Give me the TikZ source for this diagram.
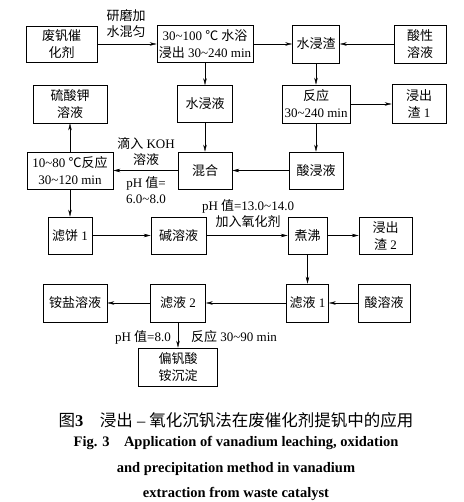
\documentclass[tikz,border=0pt]{standalone}
\usepackage{fontspec}
\setmainfont{Liberation Serif}
\newfontfamily\cjk{Noto Sans CJK SC}
\usetikzlibrary{arrows.meta}
\newcommand{\zh}[1]{{\cjk #1}}
\newcommand{\wave}{\textasciitilde}

\begin{document}
\begin{tikzpicture}[x=1pt,y=-1pt,>={Stealth[length=7pt,width=3.5pt]},
    box/.style 2 args={draw, line width=0.6pt, align=center, inner sep=1pt,
        minimum width=#1pt, minimum height=#2pt, font=\fontsize{13}{17}\selectfont},
    lab/.style={align=center, inner sep=0pt, font=\fontsize{13}{16}\selectfont}]
    \useasboundingbox (0,0) rectangle (463,502);

    % the boxes, row by row
    \node[box={71}{36}] (waste) at (61.5,44) {\zh{废钒催}\\\zh{化剂}};
    \node[box={96}{37}] (leach) at (205,44) {30\wave100 \zh{℃ 水浴}\\\zh{浸出} 30\wave240 min};
    \node[box={47}{38}] (wres) at (316,44) {\zh{水浸渣}};
    \node[box={52}{38}] (acidsol) at (420,44) {\zh{酸性}\\\zh{溶液}};
    %
    \node[box={74}{38}] (ksalt) at (70,104) {\zh{硫酸钾}\\\zh{溶液}};
    \node[box={55}{37}] (wliq) at (205,104) {\zh{水浸液}};
    \node[box={68}{38}] (react) at (316,104) {\zh{反应}\\30\wave240 min};
    \node[box={54}{39}] (res1) at (419,104) {\zh{浸出}\\\zh{渣} 1};
    %
    \node[box={86}{37}] (neut) at (70,170.5) {10\wave80 \zh{℃反应}\\30\wave120 min};
    \node[box={54}{37}] (mix) at (205,170.5) {\zh{混合}};
    \node[box={54}{37}] (aliq) at (316,170.5) {\zh{酸浸液}};
    %
    \node[box={44}{37}] (cake) at (70,235.5) {\zh{滤饼} 1};
    \node[box={55}{37}] (alk) at (178.5,235.5) {\zh{碱溶液}};
    \node[box={39}{37}] (boil) at (307.5,235.5) {\zh{煮沸}};
    \node[box={53}{37}] (res2) at (385.5,235.5) {\zh{浸出}\\\zh{渣} 2};
    %
    \node[box={64}{38}] (amsalt) at (75,303) {\zh{铵盐溶液}};
    \node[box={55}{38}] (filt2) at (178,303) {\zh{滤液} 2};
    \node[box={42}{38}] (filt1) at (307.5,303) {\zh{滤液} 1};
    \node[box={52}{38}] (acid) at (384,303) {\zh{酸溶液}};
    %
    \node[box={79}{38}] (vprec) at (178,367) {\zh{偏钒酸}\\\zh{铵沉淀}};

    % the conditions written next to the arrows
    \node[lab] (grind) at (126,23.5) {\zh{研磨加}\\\zh{水混匀}};
    \node[lab] (koh) at (146,151.5) {\zh{滴入} KOH\\\zh{溶液}};
    \node[lab] (ph1) at (146,190.5) {pH \zh{值}=\\6.0\wave8.0};
    \node[lab] (ph2) at (248,213.5) {pH \zh{值}=13.0\wave14.0\\\zh{加入氧化剂}};
    \node[lab, anchor=east] (ph3) at (171,337) {pH \zh{值}=8.0};
    \node[lab, anchor=west] (rtime) at (191,337) {\zh{反应} 30\wave90 min};

    % the arrows
    \draw[->] (waste) -- (leach);
    \draw[->] (leach) -- (wres);
    \draw[->] (acidsol) -- (wres);
    \draw[->] (leach) -- (wliq);
    \draw[->] (wres) -- (react);
    \draw[->] (react) -- (res1);
    \draw[->] (react) -- (aliq);
    \draw[->] (wliq) -- (mix);
    \draw[->] (aliq) -- (mix);
    \draw[->] (mix) -- (neut);
    \draw[->] (neut) -- (ksalt);
    \draw[->] (neut) -- (cake);
    \draw[->] (cake) -- (alk);
    \draw[->] (alk) -- (boil);
    \draw[->] (boil) -- (res2);
    \draw[->] (boil) -- (filt1);
    \draw[->] (acid) -- (filt1);
    \draw[->] (filt1) -- (filt2);
    \draw[->] (filt2) -- (amsalt);
    \draw[->] (filt2) -- (vprec);

    % the caption
    \node[inner sep=0pt, font=\fontsize{16.5}{18}\selectfont] (capzh) at (236,420)
        {\zh{图}\textbf{3}\quad\zh{浸出}~–~\zh{氧化沉钒法在废催化剂提钒中的应用}};
    \node[inner sep=0pt, font=\fontsize{14.5}{16}\bfseries] (capen1) at (236,443)
        {Fig. 3\quad Application of vanadium leaching, oxidation};
    \node[inner sep=0pt, font=\fontsize{14.5}{16}\bfseries] (capen2) at (236,469)
        {and precipitation method in vanadium};
    \node[inner sep=0pt, font=\fontsize{14.5}{16}\bfseries] (capen3) at (236,494)
        {extraction from waste catalyst};
\end{tikzpicture}
\end{document}
